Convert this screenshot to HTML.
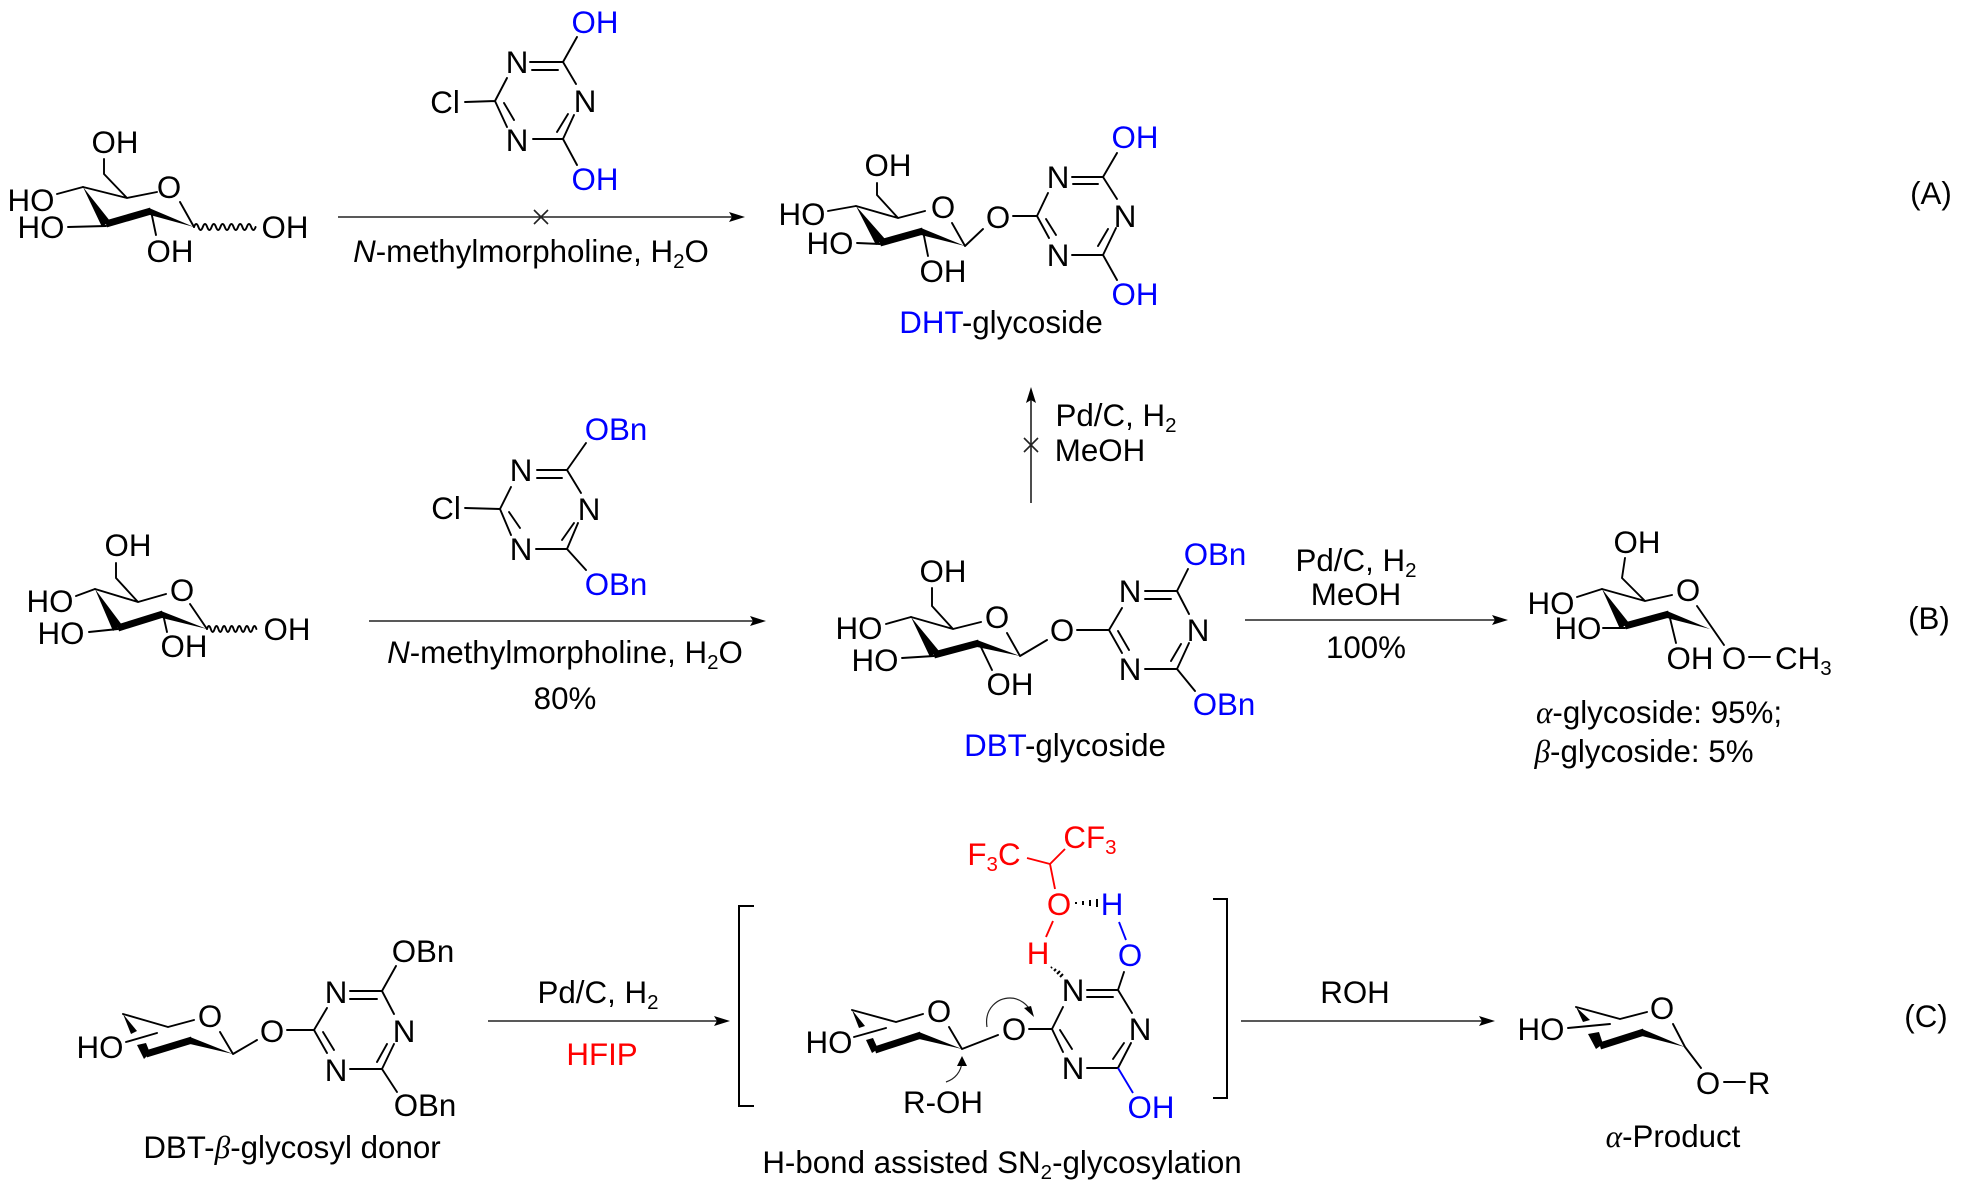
<!DOCTYPE html>
<html><head><meta charset="utf-8"><style>
html,body{margin:0;padding:0;background:#fff}
svg{display:block}
text{font-family:"Liberation Sans",Arial,sans-serif;font-size:31.3px;text-anchor:middle;fill:#000}
.b{fill:#0000ff}.r{fill:#ff0000}
.l{fill:none;stroke:#000;stroke-width:1.9;stroke-linecap:round;stroke-linejoin:round}
.a{fill:none;stroke:#222;stroke-width:1.6}
.g{font-family:"Liberation Serif",serif;font-style:italic}
tspan.s{font-size:20.5px}
</style></head><body>
<svg width="1962" height="1191" viewBox="0 0 1962 1191" xmlns="http://www.w3.org/2000/svg">
<rect width="1962" height="1191" fill="#fff"/>

<!-- A sugar -->
<g transform="translate(-1,0)">
<path class="l" d="M105 159V174L128 198M128 198L158 192M84 187L128 198M58 194L84 187M69 227L107 226M152 211L157 235M181 202L195 227"/>
<polygon points="84,187 103,227 111,221"/><line x1="107" y1="224" x2="152" y2="211" stroke="#000" stroke-width="7"/><polygon points="195,227 150,208 151,215"/>
<path class="l" d="M195 227q2.2 -6 4.4 0t4.4 0t4.4 0t4.4 0t4.4 0t4.4 0t4.4 0t4.4 0t4.4 0t4.4 0t4.4 0t4.4 0t4.4 0t4.4 0"/>
<text x="116" y="153">OH</text><text x="170" y="198">O</text><text x="32" y="211">HO</text><text x="42" y="238">HO</text><text x="171" y="262">OH</text><text x="286" y="238">OH</text>
</g>

<!-- A triazine -->
<g transform="translate(-3,0)">
<path class="l" d="M468 102L498 101M498 101L510 78M533 62H566M535 70H561M566 62L579 84M566 139L577 115M560 132L571 114M536 139H566M498 101L510 127M517 120L507 103M566 62L580 37M566 139L580 165"/>
<text x="448" y="113">Cl</text><text x="520" y="73">N</text><text x="588" y="112">N</text><text x="520" y="151">N</text><text x="598" y="33" class="b">OH</text><text x="598" y="190" class="b">OH</text>
</g>

<!-- A arrow -->
<line class="a" x1="338" y1="217" x2="732" y2="217"/><polygon points="745,217 729,212 732,217 729,222"/>
<path class="a" d="M534 210L548 224M548 210L534 224" stroke-width="1"/>
<text x="531" y="262"><tspan font-style="italic">N</tspan>-methylmorpholine, H<tspan class="s" dy="6">2</tspan><tspan dy="-6">O</tspan></text>

<!-- DHT glycoside -->
<path class="l" d="M877 183V195L898 218M898 218L925 211M856 206L898 218M828 211L856 206M857 243L880 244M923 231L928 256M952 223L965 246M965 246L983 229M1013 216L1037 216M1037 216L1048 193M1037 216L1049 238M1046 219L1056 235M1072 177H1103M1073 184H1098M1103 177L1117 199M1116 228L1103 255M1098 246L1108 229M1072 255H1103M1103 177L1117 153M1103 255L1117 280"/>
<polygon points="856,206 876,245 885,239"/><line x1="880" y1="243" x2="923" y2="231" stroke="#000" stroke-width="7"/><polygon points="965,246 921,228 921,235"/>
<text x="888" y="176">OH</text><text x="802" y="225">HO</text><text x="830" y="254">HO</text><text x="943" y="282">OH</text><text x="943" y="218">O</text><text x="998" y="228">O</text>
<text x="1058" y="188">N</text><text x="1125" y="227">N</text><text x="1058" y="266">N</text><text x="1135" y="148" class="b">OH</text><text x="1135" y="305" class="b">OH</text>
<text x="1001" y="333"><tspan class="b">DHT</tspan>-glycoside</text>

<!-- vertical arrow -->
<line class="a" x1="1031" y1="503" x2="1031" y2="400"/><polygon points="1031,387 1026,403 1031,400 1036,403"/>
<path class="a" d="M1024 438L1038 452M1038 438L1024 452" stroke-width="1"/>
<text x="1116" y="426">Pd/C, H<tspan class="s" dy="6">2</tspan></text><text x="1100" y="461">MeOH</text>

<!-- (A) -->
<text x="1931" y="204">(A)</text>

<!-- B sugar -->
<g transform="translate(-1,0)">
<path class="l" d="M117 563V578L139 602M139 602L167 594M96 589L139 602M77 596L96 589M90 632L119 629M164 614L168 632M191 604L208 629"/>
<polygon points="96,589 114,631 123,625"/><line x1="119" y1="628" x2="164" y2="614" stroke="#000" stroke-width="7"/><polygon points="208,629 162,611 163,618"/>
<path class="l" d="M208 629q1.9 -6 3.8 0t3.8 0t3.8 0t3.8 0t3.8 0t3.8 0t3.8 0t3.8 0t3.8 0t3.8 0t3.8 0t3.8 0t3.8 0"/>
<text x="129" y="556">OH</text><text x="183" y="601">O</text><text x="51" y="612">HO</text><text x="62" y="644">HO</text><text x="185" y="657">OH</text><text x="288" y="640">OH</text>
</g>

<!-- B triazine -->
<g transform="translate(-4,0)">
<path class="l" d="M469 508L504 509M504 509L515 487M504 509L515 535M513 512L524 528M541 470H571M541 478H566M571 470L585 493M582 523L571 549M566 540L578 523M540 549H571M571 470L590 443M571 549L590 570"/>
<text x="450" y="519">Cl</text><text x="525" y="481">N</text><text x="593" y="520">N</text><text x="525" y="560">N</text><text x="620" y="440" class="b">OBn</text><text x="620" y="595" class="b">OBn</text>
</g>

<!-- B arrow -->
<line class="a" x1="369" y1="621" x2="754" y2="621"/><polygon points="766,621 750,616 753,621 750,626"/>
<text x="565" y="663"><tspan font-style="italic">N</tspan>-methylmorpholine, H<tspan class="s" dy="6">2</tspan><tspan dy="-6">O</tspan></text>
<text x="565" y="709">80%</text>

<!-- DBT glycoside -->
<path class="l" d="M932 588V606L953 629M953 629L981 622M911 617L953 629M886 624L911 617M902 658L934 656M979 643L992 670M1007 633L1020 656M1020 656L1047 640M1077 630L1109 630M1109 630L1122 608M1109 630L1122 653M1118 631L1129 650M1145 591H1177M1145 599H1171M1177 591L1189 614M1189 643L1177 669M1171 661L1181 644M1145 669H1177M1177 591L1188 569M1177 669L1195 691"/>
<polygon points="911,617 930,657 939,651"/><line x1="934" y1="655" x2="979" y2="643" stroke="#000" stroke-width="7"/><polygon points="1020,656 977,640 977,647"/>
<text x="943" y="582">OH</text><text x="859" y="639">HO</text><text x="875" y="671">HO</text><text x="1010" y="695">OH</text><text x="997" y="628">O</text><text x="1062" y="641">O</text>
<text x="1130" y="602">N</text><text x="1198" y="641">N</text><text x="1130" y="680">N</text><text x="1215" y="565" class="b">OBn</text><text x="1224" y="715" class="b">OBn</text>
<text x="1065" y="756"><tspan class="b">DBT</tspan>-glycoside</text>

<!-- BC arrow -->
<line class="a" x1="1245" y1="620" x2="1496" y2="620"/><polygon points="1508,620 1492,615 1495,620 1492,625"/>
<text x="1356" y="571">Pd/C, H<tspan class="s" dy="6">2</tspan></text><text x="1356" y="605">MeOH</text><text x="1366" y="658">100%</text>

<!-- methyl glycoside -->
<path class="l" d="M1625 558L1622 578L1645 601M1645 601L1672 595M1602 589L1645 601M1577 597L1602 589M1603 628L1625 628M1669 614L1676 643M1697 606L1724 645M1749 657H1770"/>
<polygon points="1602,589 1620,629 1629,623"/><line x1="1625" y1="626" x2="1669" y2="614" stroke="#000" stroke-width="7"/><polygon points="1710,629 1667,611 1667,618"/>
<text x="1637" y="553">OH</text><text x="1551" y="614">HO</text><text x="1578" y="639">HO</text><text x="1690" y="669">OH</text><text x="1688" y="601">O</text><text x="1734" y="669">O</text>
<text x="1775" y="669" style="text-anchor:start">CH<tspan class="s" dy="6">3</tspan></text>
<text x="1659" y="723"><tspan class="g">α</tspan>-glycoside: 95%;</text>
<text x="1644" y="762"><tspan class="g">β</tspan>-glycoside: 5%</text>
<text x="1929" y="629">(B)</text>

<!-- C donor -->
<path class="l" d="M123 1014L168 1027M168 1027L194 1020M126 1042L157 1033M220 1032L233 1054M233 1054L257 1040M287 1030H314M314 1030L327 1008M314 1030L327 1053M323 1032L334 1050M350 991H382M350 999H377M382 991L394 1014M394 1044L382 1069M377 1062L387 1044M350 1069H382M382 991L396 966M382 1069L397 1092"/>
<polygon points="123,1014 131,1034 137,1031"/><polygon points="137,1045 144,1059 150,1053 146,1043"/><line x1="146" y1="1054" x2="192" y2="1040" stroke="#000" stroke-width="7"/><polygon points="233,1054 190,1037 190,1044"/>
<text x="100" y="1058">HO</text><text x="210" y="1027">O</text><text x="272" y="1042">O</text>
<text x="336" y="1003">N</text><text x="404" y="1042">N</text><text x="336" y="1081">N</text><text x="423" y="962">OBn</text><text x="425" y="1116">OBn</text>
<text x="292" y="1158">DBT-<tspan class="g">β</tspan>-glycosyl donor</text>

<!-- C arrow 1 -->
<line class="a" x1="488" y1="1021" x2="718" y2="1021"/><polygon points="730,1021 714,1016 717,1021 714,1026"/>
<text x="598" y="1003">Pd/C, H<tspan class="s" dy="6">2</tspan></text><text x="602" y="1065" class="r">HFIP</text>

<!-- brackets -->
<path fill="none" stroke="#000" stroke-width="2" d="M754 906H739V1106H754M1213 899H1227V1098H1213"/>

<!-- C intermediate -->
<path class="l" d="M852 1010L896 1022M896 1022L923 1014M854 1037L886 1028M949 1027L962 1049M962 1049L998 1035M1029 1029L1052 1029M1052 1029L1063 1007M1052 1029L1063 1052M1060 1030L1072 1049M1087 990H1118M1087 997H1113M1118 990L1132 1013M1131 1043L1118 1068M1113 1059L1124 1043M1087 1068H1118M1118 990L1124 972"/>
<line x1="1118" y1="1068" x2="1133" y2="1093" stroke="#0000ff" stroke-width="1.9"/>
<line x1="1119" y1="922" x2="1126" y2="940" stroke="#0000ff" stroke-width="1.9"/>
<polygon points="852,1010 859,1028 865,1026"/><polygon points="866,1040 872,1053 878,1049 873,1038"/><line x1="875" y1="1050" x2="921" y2="1035" stroke="#000" stroke-width="7"/><polygon points="962,1049 919,1032 919,1039"/>
<text x="829" y="1053">HO</text><text x="939" y="1022">O</text><text x="1014" y="1040">O</text>
<text x="1073" y="1001">N</text><text x="1140" y="1040">N</text><text x="1073" y="1079">N</text><text x="1130" y="966" class="b">O</text><text x="1151" y="1118" class="b">OH</text><text x="943" y="1113">R-OH</text>
<path fill="none" stroke="#222" stroke-width="1.2" d="M987 1027C984 1008 998 998 1010 998C1020 998 1028 1005 1031 1012"/><polygon points="1034,1017 1024,1008 1031,1006"/>
<path fill="none" stroke="#222" stroke-width="1.2" d="M946 1082C955 1079 961 1072 962 1062"/><polygon points="962,1056 957,1066 967,1066"/>
<!-- HFIP -->
<path fill="none" stroke="#ff0000" stroke-width="1.9" d="M1027 858L1050 864M1050 864L1065 849M1050 864L1055 889M1053 921L1046 937"/>
<text x="1090" y="848" class="r">CF<tspan class="s" dy="6">3</tspan></text><text x="994" y="865" class="r">F<tspan class="s" dy="6">3</tspan><tspan dy="-6">C</tspan></text>
<text x="1059" y="915" class="r">O</text><text x="1038" y="964" class="r">H</text><text x="1112" y="915" class="b">H</text>
<path stroke="#000" stroke-width="2" d="M1076 902v2M1083 901v4M1090 900v6M1097 899v8"/>
<path stroke="#000" stroke-width="2" d="M1051 968l1-1M1054 971l2-2M1057 974l3-3M1060 977l3-3"/>
<text x="1002" y="1173">H-bond assisted SN<tspan class="s" dy="6">2</tspan><tspan dy="-6">-glycosylation</tspan></text>

<!-- C arrow 2 -->
<line class="a" x1="1241" y1="1021" x2="1483" y2="1021"/><polygon points="1495,1021 1479,1016 1482,1021 1479,1026"/>
<text x="1355" y="1003">ROH</text>

<!-- alpha product -->
<path class="l" d="M1576 1007L1620 1019M1620 1019L1647 1012M1568 1028L1610 1024M1673 1024L1685 1047M1685 1047L1701 1068M1724 1082H1745"/>
<polygon points="1576,1007 1583,1022 1590,1020"/><polygon points="1588,1034 1596,1049 1603,1044 1599,1032"/><line x1="1600" y1="1046" x2="1644" y2="1032" stroke="#000" stroke-width="7"/><polygon points="1685,1047 1642,1029 1642,1036"/>
<text x="1541" y="1040">HO</text><text x="1662" y="1019">O</text><text x="1708" y="1094">O</text><text x="1759" y="1094">R</text>
<text x="1673" y="1147"><tspan class="g">α</tspan>-Product</text>
<text x="1926" y="1027">(C)</text>
</svg>
</body></html>
